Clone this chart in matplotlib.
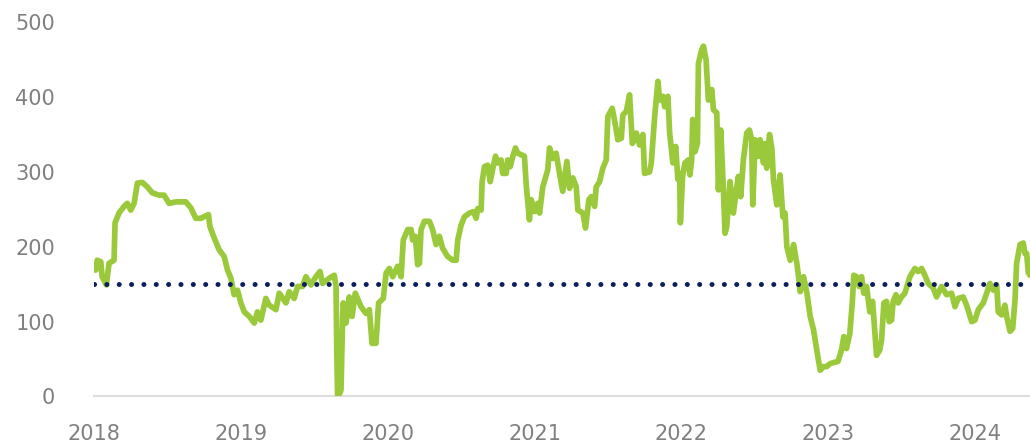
import numpy as np
import matplotlib
matplotlib.use("Agg")
import matplotlib.pyplot as plt

# decimal years since 2018 and values
t_2018_19 = [0.000, 0.012, 0.022, 0.046, 0.055, 0.084, 0.102, 0.136, 0.143, 0.170,
             0.205, 0.227, 0.250, 0.273, 0.295, 0.329, 0.363, 0.397, 0.443, 0.477,
             0.511, 0.557, 0.625, 0.659, 0.693, 0.727, 0.779, 0.789, 0.818, 0.852,
             0.886, 0.909, 0.932, 0.954, 0.977, 1.000, 1.023, 1.057, 1.091, 1.113,
             1.136, 1.170, 1.193, 1.239, 1.261, 1.307, 1.329, 1.363, 1.386, 1.420,
             1.443, 1.477, 1.511, 1.539, 1.556, 1.602, 1.636, 1.648, 1.653, 1.659,
             1.675, 1.682, 1.693, 1.697, 1.716, 1.738, 1.757, 1.779, 1.818, 1.852,
             1.875, 1.893, 1.920, 1.938, 1.970, 1.989]
v_2018_19 = [169, 169, 182, 180, 160, 149, 178, 182, 232, 245,
             254, 258, 249, 258, 285, 286, 280, 272, 269, 269,
             258, 260, 260, 252, 238, 238, 243, 227, 212, 196,
             187, 169, 158, 136, 142, 125, 113, 107, 98, 113,
             102, 131, 122, 116, 138, 125, 140, 131, 147, 147,
             160, 149, 160, 167, 151, 158, 162, 147, 62, 0,
             5, 9, 107, 125, 98, 133, 107, 138, 120, 111,
             116, 71, 71, 125, 131, 165]

t_2020_21 = [2.011, 2.034, 2.068, 2.091, 2.106, 2.136, 2.159, 2.170, 2.188, 2.204,
             2.216, 2.227, 2.250, 2.284, 2.306, 2.329, 2.352, 2.374, 2.408, 2.443,
             2.466, 2.477, 2.500, 2.522, 2.556, 2.584, 2.602, 2.613, 2.636, 2.643,
             2.659, 2.681, 2.698, 2.716, 2.734, 2.749, 2.772, 2.783, 2.807, 2.817,
             2.834, 2.852, 2.870, 2.886, 2.931, 2.943, 2.965, 2.977, 3.000, 3.022,
             3.034, 3.056, 3.090, 3.102, 3.125, 3.147, 3.170, 3.192, 3.220, 3.238,
             3.261, 3.284, 3.295, 3.329, 3.347, 3.370, 3.386, 3.409, 3.420, 3.443,
             3.465, 3.488, 3.499, 3.529, 3.552, 3.567, 3.591, 3.601, 3.625, 3.647,
             3.666, 3.693, 3.715, 3.738, 3.749, 3.783, 3.795, 3.818, 3.840, 3.852,
             3.874, 3.886, 3.908, 3.920, 3.942, 3.961, 3.976]
v_2020_21 = [171, 160, 174, 160, 209, 223, 223, 209, 214, 176,
             178, 223, 234, 234, 223, 203, 214, 198, 187, 182,
             182, 209, 229, 240, 245, 247, 238, 251, 249, 287,
             307, 309, 287, 305, 321, 312, 316, 298, 298, 316,
             307, 321, 332, 325, 321, 283, 236, 263, 247, 258,
             245, 280, 303, 332, 318, 325, 298, 274, 314, 278,
             292, 280, 249, 245, 225, 263, 267, 254, 280, 287,
             305, 316, 374, 385, 361, 343, 345, 376, 381, 403,
             338, 352, 336, 350, 298, 300, 312, 374, 421, 396,
             401, 387, 401, 352, 312, 334, 290]

t_2022_24 = [3.988, 3.993, 4.008, 4.024, 4.047, 4.058, 4.070, 4.077, 4.093, 4.109,
             4.116, 4.138, 4.150, 4.168, 4.184, 4.207, 4.218, 4.241, 4.252, 4.268,
             4.286, 4.297, 4.309, 4.331, 4.354, 4.377, 4.388, 4.404, 4.422, 4.445,
             4.463, 4.479, 4.486, 4.502, 4.525, 4.536, 4.559, 4.570, 4.581, 4.600,
             4.616, 4.627, 4.650, 4.672, 4.691, 4.706, 4.718, 4.741, 4.764, 4.786,
             4.798, 4.809, 4.832, 4.855, 4.877, 4.900, 4.922, 4.945, 4.968, 4.990,
             5.013, 5.067, 5.090, 5.106, 5.124, 5.147, 5.165, 5.174, 5.193, 5.210,
             5.227, 5.242, 5.261, 5.283, 5.302, 5.329, 5.351, 5.363, 5.379, 5.397,
             5.415, 5.431, 5.442, 5.461, 5.476, 5.499, 5.522, 5.556, 5.590, 5.612,
             5.636, 5.658, 5.681, 5.715, 5.738, 5.772, 5.806, 5.840, 5.863, 5.885,
             5.919, 5.942, 5.977, 5.999, 6.022, 6.056, 6.079, 6.101, 6.124, 6.147,
             6.158, 6.181, 6.203, 6.215, 6.238, 6.256, 6.272, 6.283, 6.306, 6.328,
             6.340, 6.351, 6.363, 6.374]
v_2022_24 = [298, 232, 294, 312, 316, 296, 316, 370, 327, 338,
             445, 463, 468, 450, 396, 410, 383, 379, 276, 356,
             276, 218, 227, 287, 245, 280, 294, 267, 316, 352,
             356, 343, 256, 343, 321, 343, 312, 338, 305, 350,
             332, 289, 256, 296, 240, 245, 200, 182, 203, 178,
             160, 140, 160, 138, 107, 89, 62, 35, 40, 40,
             44, 47, 62, 80, 64, 84, 129, 162, 160, 147,
             160, 138, 147, 113, 127, 55, 62, 75, 125, 127,
             100, 102, 127, 136, 125, 133, 138, 160, 171, 167,
             171, 162, 151, 145, 133, 147, 136, 138, 120, 131,
             133, 122, 100, 102, 116, 125, 138, 151, 142, 149,
             113, 109, 122, 107, 87, 91, 129, 178, 203, 205,
             191, 191, 165, 162]

average_level = 150
year_ticks = [2018, 2019, 2020, 2021, 2022, 2023, 2024]
value_ticks = [0, 100, 200, 300, 400, 500]

years = 2018 + np.array(t_2018_19 + t_2020_21 + t_2022_24)
values = np.array(v_2018_19 + v_2020_21 + v_2022_24)

fig = plt.figure(figsize=(10.3, 4.44), dpi=100)
ax = fig.add_axes([0.0913, 0.107, 0.9087, 0.843])

ax.plot(years, values, color='#9aca3c', lw=4.1, solid_joinstyle='round',
        solid_capstyle='round', zorder=2)
ax.axhline(average_level, color='#0b1f5c', lw=3.6, ls=(0, (0.01, 2.46)),
           dash_capstyle='round', zorder=3)

ax.set_xlim(2018, years[-1])
ax.set_ylim(0, 500)
ax.set_xticks(year_ticks)
ax.set_yticks(value_ticks)
ax.tick_params(length=0, labelsize=15, labelcolor='#808080')
ax.tick_params(axis='y', pad=28)
ax.tick_params(axis='x', pad=20)

for side in ['top', 'right', 'left']:
    ax.spines[side].set_visible(False)
ax.spines['bottom'].set_color('#dddddd')
ax.spines['bottom'].set_linewidth(1.5)
ax.spines['bottom'].set_zorder(1)

fig.savefig('out.png', dpi=100)
